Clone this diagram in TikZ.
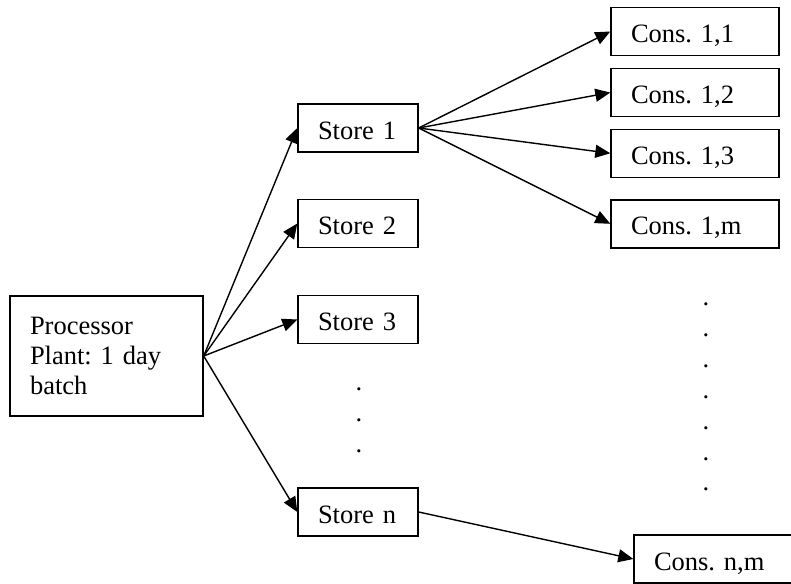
\documentclass[tikz,border=0pt]{standalone}
\usepackage{fontspec}
\setmainfont{Liberation Serif}
\usetikzlibrary{arrows.meta}
\begin{document}
\frenchspacing
\begin{tikzpicture}[x=1pt,y=-1pt,
  txt/.style={font=\fontsize{26.5}{30}\selectfont\frenchspacing},
  box/.style={txt, draw, line width=1.4pt, inner xsep=20pt, inner ysep=0pt, align=left,
    text height=22pt, text depth=0pt, minimum height=48pt},
  storebox/.style={box, text width=80pt},
  consbox/.style={box, text width=128pt},
  procbox/.style={txt, draw, line width=1.4pt, inner xsep=20pt, inner ysep=0pt, align=left,
    text width=153pt, minimum height=120pt},
  arr/.style={line width=1.4pt, -{Triangle[length=15pt,width=13pt]}},
  dotmark/.style={txt, inner sep=0pt, anchor=base}]
\useasboundingbox (0,0) rectangle (791,583);

\node[procbox] (proc) at (106.5,356) {Processor\\Plant: 1 day\\batch};

\node[storebox] (s1) at (358,128) {Store 1};
\node[storebox] (s2) at (358,223.5) {Store 2};
\node[storebox] (s3) at (358,319.5) {Store 3};
\node[storebox] (sn) at (358,512) {Store n};

\node[consbox] (c11) at (695,31.5) {Cons. 1,1};
\node[consbox] (c12) at (695,92.5) {Cons. 1,2};
\node[consbox] (c13) at (695,153.3) {Cons. 1,3};
\node[consbox] (c1m) at (695,223.8) {Cons. 1,m};
\node[consbox] (cnm) at (718,559) {Cons. n,m};

\foreach \i/\y in {1/390.5,2/421.5,3/452}
  \node[dotmark] (sdot\i) at (359,\y) {.};
\foreach \i in {0,...,6}
  \node[dotmark] (cdot\i) at (706,305.5+30.9*\i) {.};

\foreach \s in {s1,s2,s3,sn}
  \draw[arr] (proc.east) -- (\s.west);
\foreach \c in {c11,c12,c13,c1m}
  \draw[arr] (s1.east) -- (\c.west);
\draw[arr] (sn.east) -- (cnm.west);
\end{tikzpicture}
\end{document}
